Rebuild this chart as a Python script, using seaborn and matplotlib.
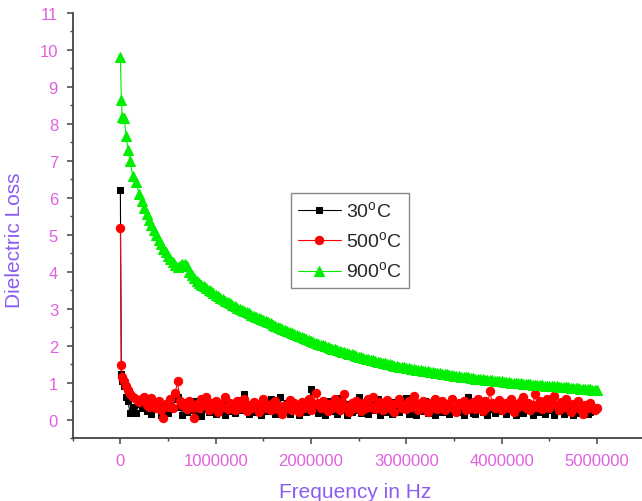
# Import dependencies.
import numpy as np
import pandas as pd
import seaborn as sns
import matplotlib.pyplot as plt
from matplotlib.ticker import MultipleLocator

# Frequency grid (Hz).
freq = [0, 10000, 20000, 40000, 60000, 80000, 100000, 130000, 160000, 200000] + list(range(225000, 5000001, 25000))

# Dielectric loss at 30 C.
loss_30 = [6.2, 1.22, 1.05, 0.9, 0.62, 0.49, 0.19, 0.35, 0.19, 0.42,
           0.3, 0.5, 0.22, 0.38, 0.15, 0.45, 0.28, 0.35, 0.12, 0.4,
           0.25, 0.18, 0.45, 0.3, 0.55, 0.62, 0.33, 0.12, 0.4, 0.2,
           0.35, 0.25, 0.5, 0.18, 0.3, 0.1, 0.42, 0.28, 0.2, 0.35,
           0.47, 0.15, 0.3, 0.25, 0.38, 0.12, 0.45, 0.22, 0.3, 0.18,
           0.4, 0.25, 0.52, 0.68, 0.32, 0.15, 0.28, 0.45, 0.2, 0.35,
           0.12, 0.3, 0.4, 0.22, 0.55, 0.28, 0.15, 0.35, 0.6, 0.2,
           0.3, 0.45, 0.15, 0.33, 0.25, 0.4, 0.12, 0.28, 0.48, 0.2,
           0.35, 0.82, 0.3, 0.4, 0.18, 0.25, 0.45, 0.12, 0.3, 0.5,
           0.22, 0.36, 0.15, 0.58, 0.28, 0.3, 0.12, 0.43, 0.2, 0.27,
           0.35, 0.62, 0.18, 0.3, 0.4, 0.15, 0.45, 0.25, 0.28, 0.55,
           0.12, 0.35, 0.2, 0.38, 0.25, 0.15, 0.48, 0.3, 0.2, 0.33,
           0.4, 0.58, 0.15, 0.28, 0.35, 0.12, 0.4, 0.22, 0.27, 0.5,
           0.18, 0.35, 0.25, 0.12, 0.3, 0.45, 0.2, 0.3, 0.38, 0.15,
           0.55, 0.25, 0.3, 0.2, 0.38, 0.12, 0.25, 0.6, 0.3, 0.18,
           0.15, 0.35, 0.42, 0.2, 0.3, 0.12, 0.28, 0.45, 0.18, 0.35,
           0.48, 0.22, 0.3, 0.15, 0.35, 0.25, 0.4, 0.12, 0.28, 0.3,
           0.18, 0.45, 0.25, 0.35, 0.12, 0.28, 0.38, 0.2, 0.3, 0.15,
           0.42, 0.25, 0.3, 0.12, 0.35, 0.22, 0.28, 0.15, 0.38, 0.2,
           0.3, 0.12, 0.25, 0.35, 0.18, 0.28, 0.3, 0.15, 0.2, 0.32,
           0.25, 0.3]

# Dielectric loss at 500 C.
loss_500 = [5.17, 1.48, 1.15, 1.05, 0.92, 0.8, 0.7, 0.62, 0.55, 0.48,
            0.55, 0.62, 0.4, 0.35, 0.58, 0.45, 0.3, 0.5, 0.25, 0.03,
            0.42, 0.35, 0.55, 0.3, 0.72, 1.03, 0.5, 0.38, 0.45, 0.28,
            0.5, 0.35, 0.03, 0.42, 0.3, 0.55, 0.4, 0.6, 0.25, 0.45,
            0.33, 0.5, 0.2, 0.42, 0.35, 0.6, 0.28, 0.45, 0.38, 0.25,
            0.5, 0.32, 0.45, 0.55, 0.22, 0.4, 0.3, 0.48, 0.35, 0.2,
            0.42, 0.55, 0.3, 0.38, 0.25, 0.45, 0.5, 0.28, 0.35, 0.15,
            0.4, 0.3, 0.52, 0.25, 0.45, 0.35, 0.2, 0.48, 0.3, 0.42,
            0.55, 0.25, 0.38, 0.72, 0.45, 0.3, 0.5, 0.35, 0.22, 0.42,
            0.3, 0.55, 0.4, 0.25, 0.48, 0.68, 0.35, 0.2, 0.45, 0.3,
            0.5, 0.38, 0.22, 0.45, 0.3, 0.55, 0.35, 0.62, 0.28, 0.4,
            0.48, 0.25, 0.35, 0.52, 0.3, 0.42, 0.2, 0.45, 0.55, 0.32,
            0.4, 0.28, 0.5, 0.35, 0.65, 0.45, 0.25, 0.38, 0.5, 0.3,
            0.2, 0.45, 0.35, 0.55, 0.28, 0.4, 0.5, 0.25, 0.42, 0.35,
            0.55, 0.3, 0.2, 0.45, 0.38, 0.5, 0.25, 0.42, 0.32, 0.48,
            0.28, 0.55, 0.4, 0.22, 0.5, 0.35, 0.76, 0.45, 0.3, 0.4,
            0.52, 0.25, 0.38, 0.45, 0.3, 0.55, 0.2, 0.42, 0.35, 0.5,
            0.62, 0.3, 0.45, 0.25, 0.4, 0.68, 0.35, 0.5, 0.28, 0.42,
            0.55, 0.3, 0.45, 0.65, 0.38, 0.25, 0.48, 0.35, 0.55, 0.3,
            0.2, 0.42, 0.35, 0.5, 0.28, 0.15, 0.4, 0.3, 0.45, 0.35,
            0.25, 0.3]

# Dielectric loss at 900 C.
loss_900 = [9.82, 8.65, 8.18, 8.15, 7.68, 7.3, 7.0, 6.6, 6.42, 6.1,
            5.9, 5.72, 5.55, 5.4, 5.26, 5.12, 4.99, 4.86, 4.74, 4.62,
            4.52, 4.42, 4.34, 4.26, 4.18, 4.12, 4.15, 4.2, 4.22, 4.15,
            4.0, 3.9, 3.82, 3.75, 3.7, 3.65, 3.6, 3.56, 3.51, 3.47,
            3.42, 3.38,
            3.34, 3.30, 3.26, 3.22, 3.18, 3.14, 3.10, 3.07, 3.03, 3.0,
            2.97, 2.94, 2.91, 2.88, 2.84, 2.81, 2.78, 2.75, 2.72, 2.69,
            2.66, 2.63, 2.60, 2.57, 2.54, 2.51, 2.48, 2.45, 2.42, 2.40,
            2.37, 2.34, 2.31, 2.28, 2.25, 2.23, 2.20, 2.18, 2.15, 2.13,
            2.10, 2.08, 2.05, 2.03, 2.01, 1.99, 1.96, 1.94, 1.92, 1.90,
            1.88, 1.86, 1.84, 1.82, 1.80, 1.78, 1.76, 1.74, 1.72, 1.70,
            1.68, 1.67, 1.65, 1.63, 1.61, 1.60, 1.58, 1.57, 1.55, 1.54,
            1.52, 1.51, 1.49, 1.48, 1.46, 1.45, 1.43, 1.42, 1.41, 1.40,
            1.39, 1.38, 1.36, 1.35, 1.34, 1.33, 1.32, 1.31, 1.30, 1.29,
            1.28, 1.27, 1.26, 1.25, 1.24, 1.23, 1.22, 1.21, 1.20, 1.19,
            1.18, 1.17, 1.16, 1.15, 1.145, 1.14, 1.13, 1.12, 1.11, 1.10,
            1.095, 1.09, 1.08, 1.07, 1.065, 1.06, 1.055, 1.05, 1.04, 1.03,
            1.025, 1.02, 1.01, 1.0, 0.995, 0.99, 0.985, 0.98, 0.97, 0.96,
            0.955, 0.95, 0.945, 0.94, 0.935, 0.93, 0.925, 0.92, 0.915, 0.91,
            0.905, 0.9, 0.895, 0.89, 0.885, 0.88, 0.875, 0.87, 0.86, 0.85,
            0.845, 0.84, 0.835, 0.83, 0.825, 0.82, 0.815, 0.81, 0.8, 0.79]

labels = [r'30$^\mathregular{o}$C', r'500$^\mathregular{o}$C', r'900$^\mathregular{o}$C']

sns.set_style("ticks")
plt.rcParams['font.family'] = ['Liberation Sans', 'DejaVu Sans']

tick_color = '#e060e0'
label_color = '#8c5cf0'

fig = plt.figure(figsize=(6.42, 5.02), dpi=100)
ax = fig.add_axes([72.7 / 642, 63 / 502, 572 / 642, 425 / 502])

# Series styles: (values, color, marker, marker size)
series = [
    (loss_30, '#000000', 's', 5),
    (loss_500, '#ff0000', 'o', 6),
    (loss_900, '#00ee00', '^', 6.8),
]
for (vals, col, mk, ms), lab in zip(series, labels):
    df = pd.DataFrame({'freq': freq, 'loss': vals})
    sns.lineplot(data=df, x='freq', y='loss', ax=ax, color=col, marker=mk,
                 markersize=ms, markeredgecolor=col, linewidth=0.8, label=lab)

ax.set_xlim(-500000, 5500000)
ax.set_ylim(-0.5, 11)
ax.xaxis.set_major_locator(MultipleLocator(1000000))
ax.xaxis.set_minor_locator(MultipleLocator(500000))
ax.yaxis.set_major_locator(MultipleLocator(1))
ax.yaxis.set_minor_locator(MultipleLocator(0.5))
ax.ticklabel_format(style='plain', axis='x', useOffset=False)

for side in ['top', 'right']:
    ax.spines[side].set_visible(False)
for side in ['left', 'bottom']:
    ax.spines[side].set_color('#444444')
    ax.spines[side].set_linewidth(1.3)

ax.tick_params(which='major', direction='out', length=4.5, width=1.1, color='#444444',
               labelsize=12, labelcolor=tick_color, pad=6)
ax.tick_params(which='minor', direction='out', length=2.5, width=1.0, color='#444444')

ax.set_xlabel('Frequency in Hz', fontsize=15, color=label_color)
ax.set_ylabel('Dielectric Loss', fontsize=15, color=label_color)
ax.xaxis.set_label_coords(0.494, -0.104)
ax.yaxis.set_label_coords(-0.085, 0.468)

leg = ax.legend(loc='upper left', bbox_to_anchor=(291 / 642, 1 - 194 / 502),
                bbox_transform=fig.transFigure, borderaxespad=0, fontsize=14,
                handlelength=2.2, handletextpad=0.3, borderpad=0.35, labelspacing=0.5,
                frameon=True, fancybox=False, framealpha=1, edgecolor='#888888')
leg.get_frame().set_linewidth(1.0)

fig.savefig('out.png', dpi=100)
